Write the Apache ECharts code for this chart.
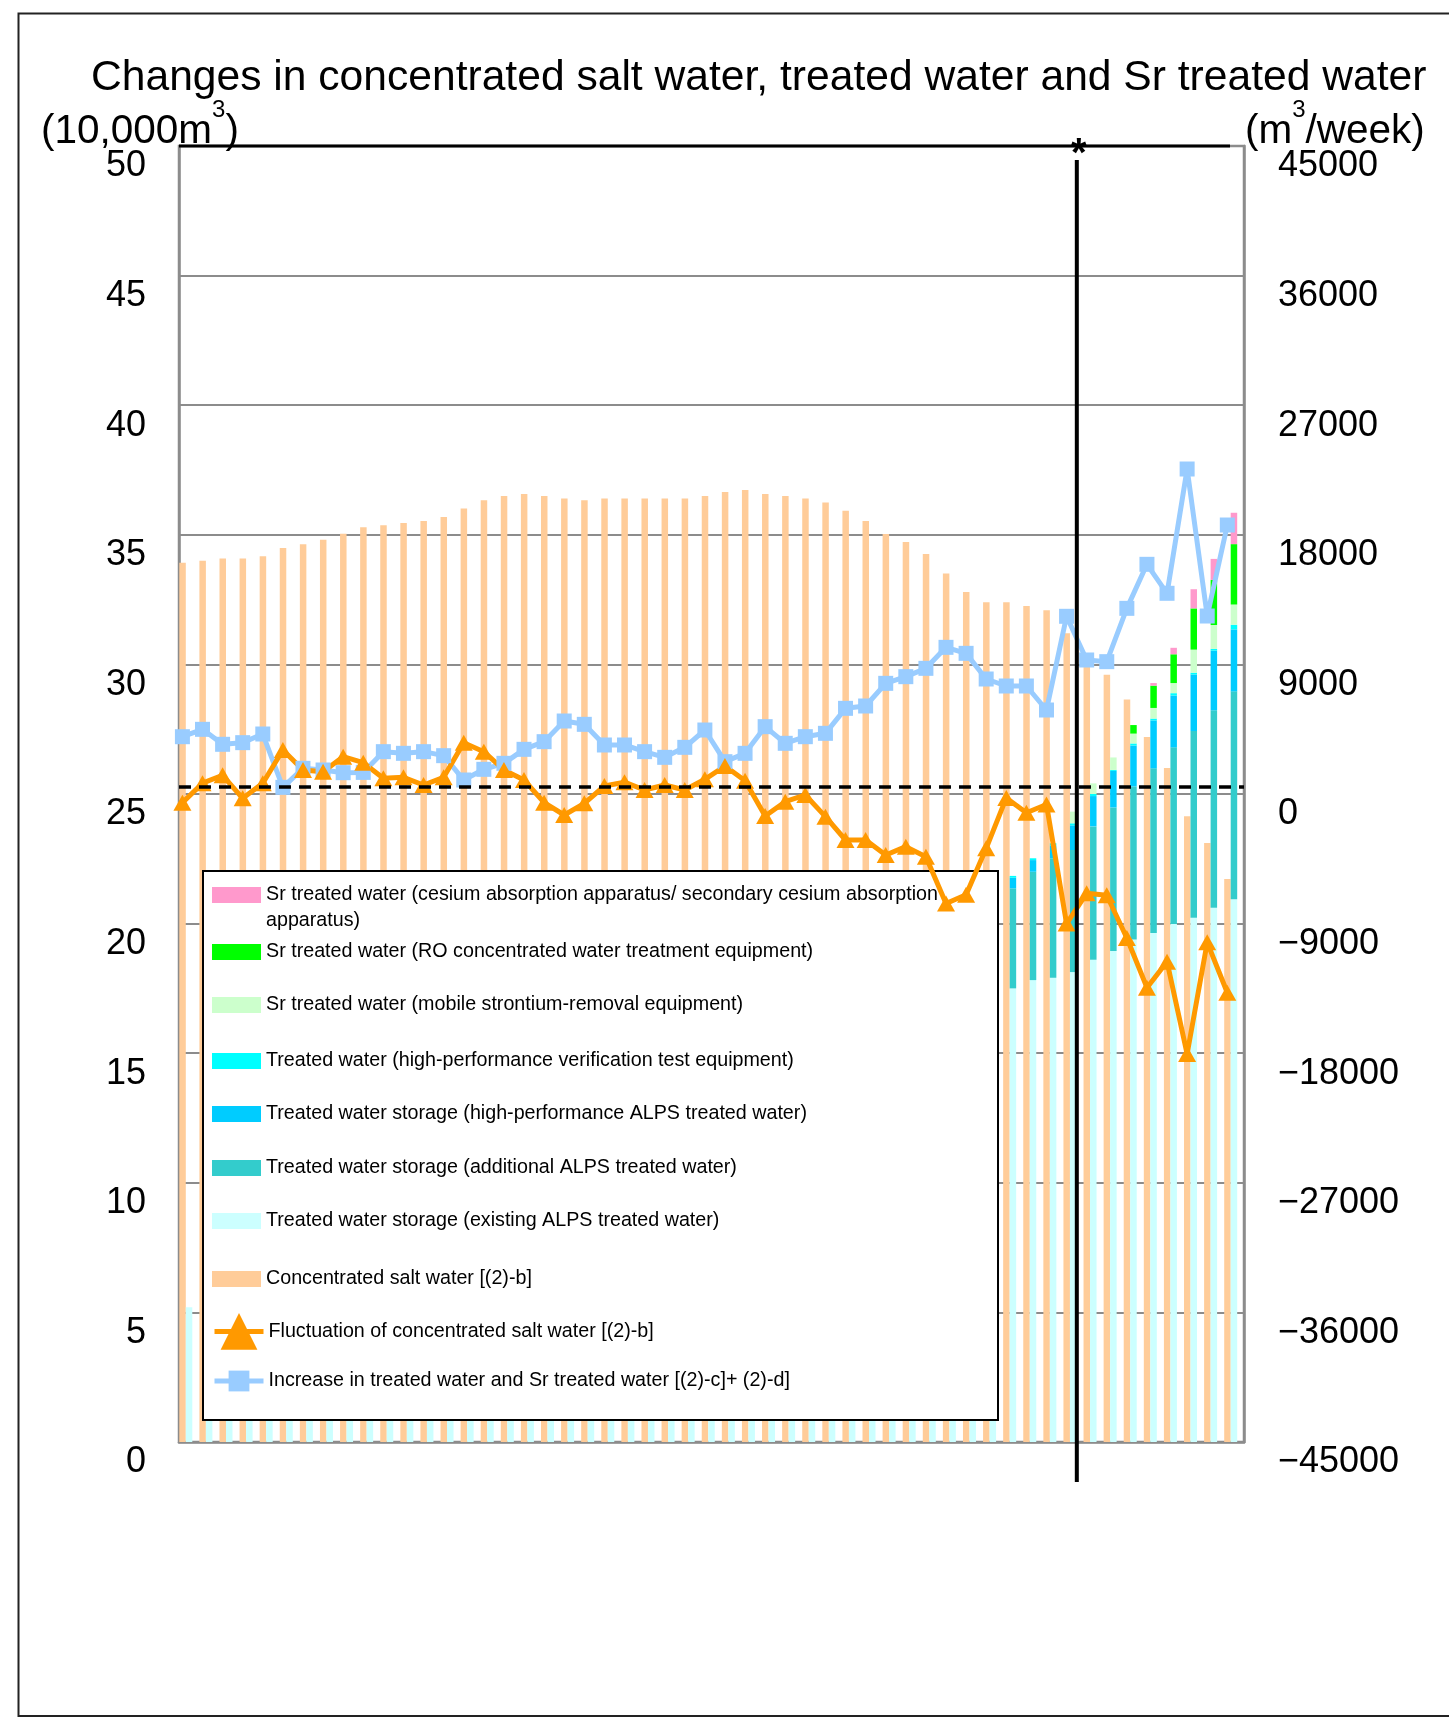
<!DOCTYPE html>
<html>
<head>
<meta charset="utf-8">
<title>Changes in concentrated salt water, treated water and Sr treated water</title>
<script src="https://cdn.jsdelivr.net/npm/echarts@6/dist/echarts.min.js"></script>
<style>
  html, body { margin: 0; padding: 0; background: #fff; }
  #chart { width: 1449px; height: 1722px; }
</style>
</head>
<body>
<div id="chart"></div>
<script>
const FONT = "'Liberation Sans', Arial, sans-serif";

// 53 weekly reports
const weeks = [1, 2, 3, 4, 5, 6, 7, 8, 9, 10, 11, 12, 13, 14, 15, 16, 17, 18, 19, 20,
  21, 22, 23, 24, 25, 26, 27, 28, 29, 30, 31, 32, 33, 34, 35, 36, 37, 38, 39, 40,
  41, 42, 43, 44, 45, 46, 47, 48, 49, 50, 51, 52, 53];

// left axis, 10,000 m3
const concentratedSalt = [33.92, 34.0, 34.09, 34.09, 34.17, 34.49, 34.64, 34.81, 35.04, 35.29,
  35.37, 35.46, 35.53, 35.69, 36.01, 36.33, 36.5, 36.57, 36.5, 36.4,
  36.33, 36.4, 36.4, 36.4, 36.4, 36.4, 36.5, 36.65, 36.73, 36.57,
  36.5, 36.4, 36.25, 35.93, 35.53, 35.03, 34.72, 34.26, 33.51, 32.79,
  32.4, 32.4, 32.25, 32.09, 31.2, 29.95, 29.6, 28.65, 27.2, 26.0,
  24.14, 23.11, 21.72];
// weeks 2-41 sit behind the legend box, values there are rough guesses
const existingAlps = [5.2, 5.65, 6.0, 6.36, 6.78, 6.83, 7.01, 7.18, 7.33, 7.48,
  7.77, 8.05, 8.34, 8.61, 8.71, 8.88, 9.09, 9.4, 9.76, 10.27,
  10.75, 11.09, 11.43, 11.72, 11.97, 12.29, 12.73, 12.95, 13.23, 13.7,
  14.05, 14.4, 14.75, 15.2, 15.6, 16.0, 16.4, 16.75, 17.0, 17.2,
  17.35, 17.5, 17.82, 17.91, 18.13, 18.61, 18.94, 19.39, 19.64, 19.98,
  20.23, 20.61, 20.94];
const additionalAlps = [0, 0, 0, 0, 0, 0, 0, 0, 0, 0,
  0, 0, 0, 0, 0, 0, 0, 0, 0, 0,
  0, 0, 0, 0, 0, 0, 0, 0, 0, 0,
  0, 0.05, 0.12, 0.26, 0.47, 0.8, 1.1, 1.55, 2.1, 2.75,
  3.3, 3.86, 4.18, 4.61, 4.71, 5.14, 5.54, 5.9, 6.35, 6.82,
  7.2, 7.62, 8.02];
const highPerfAlps = [0, 0, 0, 0, 0, 0, 0, 0, 0, 0,
  0, 0, 0, 0, 0, 0, 0, 0, 0, 0,
  0, 0, 0, 0, 0, 0, 0, 0, 0, 0,
  0, 0, 0, 0, 0, 0, 0.1, 0.2, 0.35, 0.45,
  0.4, 0.41, 0.45, 0.5, 0.95, 1.17, 1.41, 1.58, 1.85, 2.0,
  2.18, 2.3, 2.39];
const verificationTest = [0, 0, 0, 0, 0, 0, 0, 0, 0, 0,
  0, 0, 0, 0, 0, 0, 0, 0, 0, 0,
  0, 0, 0, 0, 0, 0, 0, 0, 0, 0,
  0, 0, 0, 0, 0, 0, 0.05, 0.07, 0.07, 0.07,
  0.07, 0.07, 0.07, 0.08, 0.08, 0.08, 0.04, 0.08, 0.07, 0.09,
  0.07, 0.07, 0.18];
const mobileSr = [0, 0, 0, 0, 0, 0, 0, 0, 0, 0,
  0, 0, 0, 0, 0, 0, 0, 0, 0, 0,
  0, 0, 0, 0, 0, 0, 0, 0, 0, 0,
  0, 0, 0, 0, 0, 0, 0, 0, 0, 0,
  0, 0, 0, 0, 0.45, 0.41, 0.48, 0.38, 0.41, 0.39,
  0.89, 0.92, 0.78];
const roSr = [0, 0, 0, 0, 0, 0, 0, 0, 0, 0,
  0, 0, 0, 0, 0, 0, 0, 0, 0, 0,
  0, 0, 0, 0, 0, 0, 0, 0, 0, 0,
  0, 0, 0, 0, 0, 0, 0, 0, 0, 0,
  0, 0, 0, 0, 0, 0, 0, 0.33, 0.86, 1.11,
  1.59, 1.74, 2.33];
const cesiumSr = [0, 0, 0, 0, 0, 0, 0, 0, 0, 0,
  0, 0, 0, 0, 0, 0, 0, 0, 0, 0,
  0, 0, 0, 0, 0, 0, 0, 0, 0, 0,
  0, 0, 0, 0, 0, 0, 0, 0, 0, 0,
  0, 0, 0, 0, 0, 0, 0, 0, 0.1, 0.25,
  0.74, 0.81, 1.21];

// right axis, m3/week
const saltFluctuation = [-600, 750, 1300, -300, 750, 3055, 1667, 1548, 2590, 2173,
  1090, 1160, 625, 1160, 3565, 2940, 1667, 972, -604, -1458,
  -648, 555, 820, 278, 625, 278, 1019, 1944, 926, -1528,
  -532, -69, -1574, -3194, -3194, -4236, -3657, -4352, -7600, -7000,
  -3773, -270, -1300, -730, -9000, -6900, -7030, -10000, -13450, -11650,
  -18050, -10300, -13800];
const treatedIncrease = [3979, 4491, 3451, 3565, 4166, 463, 1782, 1667, 1481, 1500,
  2940, 2824, 2940, 2662, 972, 1713, 2130, 3102, 3634, 5069,
  4838, 3403, 3403, 2940, 2546, 3241, 4444, 2245, 2824, 4676,
  3519, 3981, 4213, 5949, 6111, 7685, 8148, 8727, 10185, 9768,
  7986, 7500, 7500, 5833, 12340, 9306, 9190, 12893, 15950, 13937,
  22569, 12360, 18680];

const NAMES = {
  cesiumSr: 'Sr treated water (cesium absorption apparatus/ secondary cesium absorption apparatus)',
  roSr: 'Sr treated water (RO concentrated water treatment equipment)',
  mobileSr: 'Sr treated water (mobile strontium-removal equipment)',
  verification: 'Treated water (high-performance verification test equipment)',
  highPerf: 'Treated water storage (high-performance ALPS treated water)',
  additional: 'Treated water storage (additional ALPS treated water)',
  existing: 'Treated water storage (existing ALPS treated water)',
  salt: 'Concentrated salt water [(2)-b]',
  fluctuation: 'Fluctuation of concentrated salt water [(2)-b]',
  increase: 'Increase in treated water and Sr treated water [(2)-c]+ (2)-d]'
};

const POINT_OFFSET = 0.17;   // line markers sit over the salt water bar
const DIVIDER_AT = 44.68;    // the "*" line between week 45 and 46
const REFERENCE_LEVEL = 500; // dashed line, m3/week
const GRAY = '#8c8c8c';
const LEGEND_FONT = 19.7;

const barBase = { type: 'bar', xAxisIndex: 0, yAxisIndex: 0, barWidth: 6.5, barGap: '0%' };
const stackBar = (name, data, color) => ({ ...barBase, name, data, stack: 'treated', itemStyle: { color } });

const legendRows = [
  { name: NAMES.cesiumSr, y: 895, h: 16, icon: 'rect' },
  { name: NAMES.roSr, y: 952, h: 16, icon: 'rect' },
  { name: NAMES.mobileSr, y: 1005, h: 16, icon: 'rect' },
  { name: NAMES.verification, y: 1061, h: 16, icon: 'rect' },
  { name: NAMES.highPerf, y: 1114, h: 16, icon: 'rect' },
  { name: NAMES.additional, y: 1168, h: 16, icon: 'rect' },
  { name: NAMES.existing, y: 1221, h: 16, icon: 'rect' },
  { name: NAMES.salt, y: 1279, h: 16, icon: 'rect' },
  { name: NAMES.fluctuation, y: 1336, h: 46 },
  { name: NAMES.increase, y: 1383, h: 26 }
];

const legends = legendRows.map(row => ({
  data: [row.name],
  left: 212,
  top: row.y - Math.max(row.h, 22) / 2,
  padding: 0,
  itemWidth: 49,
  itemHeight: row.h,
  icon: row.icon,
  selectedMode: false,
  lineStyle: { width: 5 },
  // the long first entry wraps; its second line is drawn below as text
  formatter: name => name.replace(' apparatus)', ''),
  textStyle: { fontFamily: FONT, fontSize: LEGEND_FONT, lineHeight: 22, color: '#000' }
}));

const chart = echarts.init(document.getElementById('chart'));

const option = {
  animation: false,
  backgroundColor: '#fff',
  title: {
    text: 'Changes in concentrated salt water, treated water and Sr treated water',
    left: 91,
    top: 57,
    padding: 0,
    textStyle: { fontFamily: FONT, fontSize: 42.6, fontWeight: 'normal', color: '#000' }
  },
  legend: legends,
  grid: {
    left: 179, right: 205, top: 146, bottom: 280,
    show: true, borderColor: GRAY, borderWidth: 2.5, backgroundColor: 'transparent'
  },
  xAxis: [
    {
      type: 'category',
      data: weeks,
      boundaryGap: true,
      axisLine: { lineStyle: { color: GRAY, width: 2.5 } },
      axisTick: { interval: 0, inside: true, length: 12, lineStyle: { color: GRAY, width: 2 } },
      axisLabel: { show: false },
      splitLine: { show: false }
    },
    { type: 'value', min: 0, max: weeks.length, show: false }
  ],
  yAxis: [
    {
      type: 'value', min: 0, max: 50, interval: 5, position: 'left',
      axisLine: { show: true, lineStyle: { color: GRAY, width: 2.5 } },
      axisTick: { show: true, inside: true, length: 12, lineStyle: { color: GRAY, width: 2 } },
      axisLabel: {
        fontFamily: FONT, fontSize: 36, lineHeight: 41, color: '#000', margin: 33,
        verticalAlign: 'top'
      },
      splitLine: { lineStyle: { color: GRAY, width: 2 } }
    },
    {
      type: 'value', min: -45000, max: 45000, interval: 9000, position: 'right',
      axisLine: { show: true, lineStyle: { color: GRAY, width: 2.5 } },
      axisTick: { show: true, inside: true, length: 12, lineStyle: { color: GRAY, width: 2 } },
      axisLabel: {
        fontFamily: FONT, fontSize: 36, lineHeight: 41, color: '#000', margin: 34,
        verticalAlign: 'top',
        formatter: v => (v < 0 ? '\u2212' + Math.abs(v) : String(v))
      },
      splitLine: { show: false }
    }
  ],
  series: [
    { ...barBase, name: NAMES.salt, data: concentratedSalt, itemStyle: { color: '#FFCC99' } },
    stackBar(NAMES.existing, existingAlps, '#CCFFFF'),
    stackBar(NAMES.additional, additionalAlps, '#33CCCC'),
    stackBar(NAMES.highPerf, highPerfAlps, '#00CCFF'),
    stackBar(NAMES.verification, verificationTest, '#00FFFF'),
    stackBar(NAMES.mobileSr, mobileSr, '#CCFFCC'),
    stackBar(NAMES.roSr, roSr, '#00FF00'),
    stackBar(NAMES.cesiumSr, cesiumSr, '#FF99CC'),
    // empty third column so the two real bars start at the left of each week
    { ...barBase, name: 'spacer', data: [] },
    {
      type: 'line',
      name: NAMES.increase,
      xAxisIndex: 1,
      yAxisIndex: 1,
      data: treatedIncrease.map((v, i) => [i + POINT_OFFSET, v]),
      symbol: 'rect',
      symbolSize: 15,
      lineStyle: { color: '#99CCFF', width: 5 },
      itemStyle: { color: '#99CCFF' }
    },
    {
      type: 'line',
      name: NAMES.fluctuation,
      xAxisIndex: 1,
      yAxisIndex: 1,
      data: saltFluctuation.map((v, i) => [i + POINT_OFFSET, v]),
      symbol: 'triangle',
      symbolSize: [18, 16],
      lineStyle: { color: '#FF9900', width: 5 },
      itemStyle: { color: '#FF9900' },
      markLine: {
        silent: true,
        symbol: 'none',
        label: { show: false },
        lineStyle: { color: '#000', width: 3.5, type: [12, 8] },
        data: [{ yAxis: REFERENCE_LEVEL }]
      }
    }
  ]
};

chart.setOption(option);

// frame, legend box, divider and unit labels
const xAt = v => chart.convertToPixel({ xAxisIndex: 1 }, v);
const yAt = v => chart.convertToPixel({ yAxisIndex: 0 }, v);
const plotTop = yAt(50);
const plotBottom = yAt(0);
const plotLeft = xAt(0);
const plotRight = xAt(weeks.length);
const divider = xAt(DIVIDER_AT);

const unitRich = {
  a: { fontFamily: FONT, fontSize: 40.5, color: '#000' },
  s: { fontFamily: FONT, fontSize: 24, color: '#000', padding: [0, 0, 44, 0] }
};

chart.setOption({
  graphic: [
    {
      type: 'rect', silent: true, z: 10,
      shape: { x: 18.5, y: 13.5, width: 1460, height: 1702.5 },
      style: { fill: 'none', stroke: '#222', lineWidth: 2 }
    },
    {
      type: 'rect', silent: true, z: 3,
      shape: { x: 203, y: 871, width: 795, height: 549 },
      style: { fill: '#fff', stroke: '#000', lineWidth: 2 }
    },
    {
      type: 'text', silent: true, z: 5,
      x: 266, y: 921,
      style: { text: 'apparatus)', fontFamily: FONT, fontSize: LEGEND_FONT, fill: '#000', align: 'left', verticalAlign: 'middle' }
    },
    {
      type: 'line', silent: true, z: 10,
      shape: { x1: plotLeft, y1: plotTop, x2: plotRight - 14, y2: plotTop },
      style: { stroke: '#000', lineWidth: 3 }
    },
    {
      type: 'line', silent: true, z: 10,
      shape: { x1: divider, y1: plotTop + 14, x2: divider, y2: plotBottom + 40 },
      style: { stroke: '#000', lineWidth: 4 }
    },
    {
      type: 'text', silent: true, z: 10,
      x: divider + 2, y: plotTop + 9,
      style: { text: '*', fontFamily: FONT, fontSize: 40, fontWeight: 'bold', fill: '#000', align: 'center', verticalAlign: 'middle' }
    },
    {
      type: 'text', silent: true, z: 10,
      x: 41, y: 132,
      style: { text: '{a|(10,000m}{s|3}{a|)}', rich: unitRich, align: 'left', verticalAlign: 'middle' }
    },
    {
      type: 'text', silent: true, z: 10,
      x: 1245, y: 132,
      style: { text: '{a|(m}{s|3}{a|/week)}', rich: unitRich, align: 'left', verticalAlign: 'middle' }
    }
  ]
});
</script>
</body>
</html>
